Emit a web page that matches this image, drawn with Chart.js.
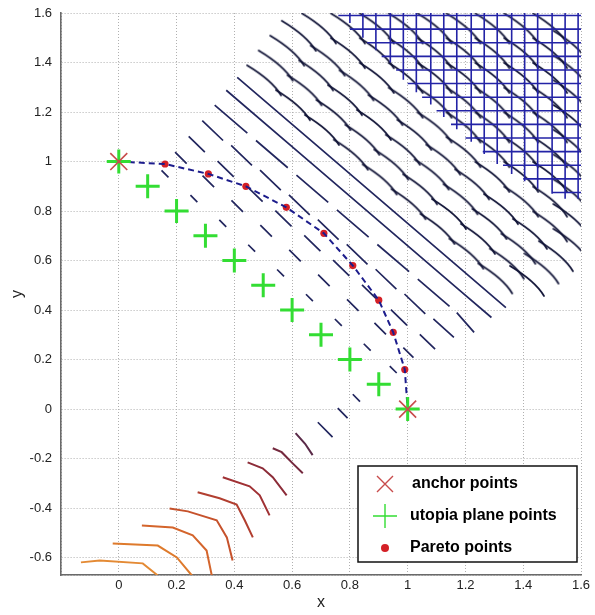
<!DOCTYPE html>
<html>
<head>
<meta charset="utf-8">
<script src="https://cdn.jsdelivr.net/npm/chart.js@4.4.1/dist/chart.umd.min.js"></script>
<style>
html, body { margin: 0; padding: 0; background: #fff; }
#wrap { width: 595px; height: 615px; position: relative; }
</style>
</head>
<body>
<div id="wrap"><canvas id="chart"></canvas></div>
<script>
// axis ticks
const xTicks = [0, 0.2, 0.4, 0.6, 0.8, 1, 1.2, 1.4, 1.6];
const yTicks = [-0.6, -0.4, -0.2, 0, 0.2, 0.4, 0.6, 0.8, 1, 1.2, 1.4, 1.6];

// anchor, utopia plane and pareto points
const anchorX = [0, 1];
const anchorY = [1, 0];
const utopiaX = [0, 0.1, 0.2, 0.3, 0.4, 0.5, 0.6, 0.7, 0.8, 0.9, 1];
const utopiaY = [1, 0.9, 0.8, 0.7, 0.6, 0.5, 0.4, 0.3, 0.2, 0.1, 0];
const paretoX = [0, 0.16, 0.31, 0.44, 0.58, 0.71, 0.81, 0.90, 0.95, 0.99, 1];
const paretoY = [1, 0.99, 0.95, 0.90, 0.815, 0.71, 0.58, 0.44, 0.31, 0.16, 0];

// short strokes near the utopia plane [x1, y1, x2, y2]
const dashSegs = [
    [0.148, 0.964, 0.172, 0.936], [0.248, 0.864, 0.272, 0.836], [0.348, 0.764, 0.372, 0.736],
    [0.448, 0.664, 0.472, 0.636], [0.548, 0.564, 0.572, 0.536], [0.648, 0.464, 0.672, 0.436],
    [0.748, 0.364, 0.772, 0.336], [0.848, 0.264, 0.872, 0.236], [0.938, 0.174, 0.962, 0.146],
    [0.195, 1.038, 0.235, 0.992], [0.29, 0.943, 0.33, 0.897], [0.39, 0.843, 0.43, 0.797],
    [0.49, 0.743, 0.53, 0.697], [0.59, 0.643, 0.63, 0.597], [0.69, 0.543, 0.73, 0.497],
    [0.79, 0.443, 0.83, 0.397], [0.885, 0.348, 0.925, 0.302], [0.985, 0.248, 1.02, 0.208],
    [0.242, 1.102, 0.298, 1.038], [0.342, 1.002, 0.398, 0.938], [0.442, 0.902, 0.498, 0.838],
    [0.542, 0.802, 0.598, 0.738], [0.642, 0.702, 0.698, 0.638], [0.742, 0.602, 0.798, 0.538],
    [0.842, 0.502, 0.898, 0.438], [0.942, 0.402, 0.998, 0.338], [1.042, 0.302, 1.095, 0.242],
    [0.289, 1.165, 0.361, 1.085], [0.389, 1.065, 0.461, 0.985], [0.489, 0.965, 0.561, 0.885],
    [0.589, 0.865, 0.661, 0.785], [0.689, 0.765, 0.761, 0.685], [0.789, 0.665, 0.861, 0.585],
    [0.889, 0.565, 0.961, 0.485], [0.989, 0.465, 1.061, 0.385], [1.089, 0.365, 1.16, 0.29],
    [0.332, 1.228, 0.445, 1.115], [0.475, 1.085, 0.585, 0.975], [0.615, 0.945, 0.725, 0.835],
    [0.755, 0.805, 0.865, 0.695], [0.895, 0.665, 1.005, 0.555], [1.035, 0.525, 1.145, 0.415],
    [1.17, 0.39, 1.23, 0.31],
    [0.81, 0.06, 0.835, 0.03], [0.758, 0.004, 0.792, -0.036], [0.689, -0.053, 0.74, -0.113]
];

// longer level lines
const longLines = [
    [[0.372, 1.288], [0.62, 1.04], [0.95, 0.71], [1.18, 0.48], [1.29, 0.37]],
    [[0.41, 1.34], [0.68, 1.07], [1.0, 0.75], [1.22, 0.53], [1.34, 0.41]]
];

// centres of the curved scale strokes in the upper right
const arcPts = [
    [0.51, 1.34], [0.61, 1.24], [0.71, 1.14], [0.81, 1.04], [0.91, 0.94], [1.01, 0.84], [1.11, 0.74], [1.21, 0.64], [1.31, 0.54],
    [0.55, 1.40], [0.65, 1.30], [0.75, 1.20], [0.85, 1.10], [0.95, 1.00], [1.05, 0.90], [1.15, 0.80], [1.25, 0.70], [1.35, 0.60], [1.42, 0.53],
    [0.59, 1.46], [0.69, 1.36], [0.79, 1.26], [0.89, 1.16], [0.99, 1.06], [1.09, 0.96], [1.19, 0.86], [1.29, 0.76], [1.39, 0.66], [1.47, 0.58],
    [0.63, 1.52], [0.73, 1.42], [0.83, 1.32], [0.93, 1.22], [1.03, 1.12], [1.13, 1.02], [1.23, 0.92], [1.33, 0.82], [1.43, 0.72], [1.52, 0.63],
    [0.70, 1.55], [0.80, 1.45], [0.90, 1.35], [1.00, 1.25], [1.10, 1.15], [1.20, 1.05], [1.30, 0.95], [1.40, 0.85], [1.50, 0.75], [1.57, 0.68],
    [0.80, 1.55], [0.90, 1.45], [1.00, 1.35], [1.10, 1.25], [1.20, 1.15], [1.30, 1.05], [1.40, 0.95], [1.50, 0.85], [1.57, 0.78],
    [0.90, 1.55], [1.00, 1.45], [1.10, 1.35], [1.20, 1.25], [1.30, 1.15], [1.40, 1.05], [1.50, 0.95], [1.57, 0.88],
    [1.00, 1.55], [1.10, 1.45], [1.20, 1.35], [1.30, 1.25], [1.40, 1.15], [1.50, 1.05], [1.57, 0.98],
    [1.10, 1.55], [1.20, 1.45], [1.30, 1.35], [1.40, 1.25], [1.50, 1.15], [1.57, 1.08],
    [1.20, 1.55], [1.30, 1.45], [1.40, 1.35], [1.50, 1.25], [1.57, 1.18],
    [1.30, 1.55], [1.40, 1.45], [1.50, 1.35], [1.57, 1.28],
    [1.40, 1.55], [1.50, 1.45], [1.57, 1.38],
    [1.50, 1.55], [1.57, 1.48]
];

// mesh in the top right corner
const meshX = [0.80, 0.845, 0.89, 0.94, 0.985, 1.03, 1.08, 1.125, 1.17, 1.22, 1.265, 1.31, 1.36, 1.405, 1.45, 1.50, 1.545, 1.59];
const meshXFrom = [1.56, 1.50, 1.45, 1.40, 1.33, 1.28, 1.23, 1.18, 1.13, 1.08, 1.03, 0.99, 0.95, 0.92, 0.89, 0.87, 0.85, 0.85];
const meshY = [1.59, 1.535, 1.48, 1.425, 1.37, 1.315, 1.26, 1.205, 1.15, 1.095, 1.04, 0.985, 0.93, 0.875];
const meshYFrom = [0.76, 0.80, 0.86, 0.91, 0.96, 1.00, 1.05, 1.10, 1.15, 1.20, 1.26, 1.33, 1.40, 1.50];

// lower left level arcs
const redArcs = [
    [[-0.131, -0.619], [-0.066, -0.611], [0.083, -0.623], [0.135, -0.672]],
    [[-0.021, -0.543], [0.135, -0.551], [0.201, -0.599], [0.253, -0.672]],
    [[0.080, -0.470], [0.187, -0.478], [0.256, -0.510], [0.304, -0.571], [0.322, -0.672]],
    [[0.176, -0.401], [0.239, -0.413], [0.339, -0.449], [0.374, -0.518], [0.394, -0.611]],
    [[0.273, -0.336], [0.349, -0.360], [0.408, -0.385], [0.436, -0.449], [0.464, -0.518]],
    [[0.360, -0.275], [0.453, -0.312], [0.488, -0.348], [0.522, -0.429]],
    [[0.446, -0.215], [0.498, -0.239], [0.533, -0.275], [0.581, -0.348]],
    [[0.533, -0.158], [0.564, -0.174], [0.602, -0.219], [0.637, -0.259]],
    [[0.612, -0.097], [0.645, -0.14], [0.671, -0.186]]
];
const redArcColors = ['#e48a34', '#de7a2c', '#d4652c', '#c6522c', '#b23f30', '#a03134', '#8c2c38', '#74293e', '#5a2a48'];

const navy = '#22265e';
const meshBlue = '#2323a6';
const fontFamily = '"Liberation Sans", Arial, Helvetica, sans-serif';

function toPoints(xs, ys) {
    return xs.map((x, i) => ({ x: x, y: ys[i] }));
}

function segData(segs) {
    const out = [];
    segs.forEach(s => {
        out.push({ x: s[0], y: s[1] }, { x: s[2], y: s[3] }, { x: null, y: null });
    });
    return out;
}

function polyData(lines) {
    const out = [];
    lines.forEach(l => {
        l.forEach(p => out.push({ x: p[0], y: p[1] }));
        out.push({ x: null, y: null });
    });
    return out;
}

function meshData() {
    const out = [];
    for (let i = 0; i < meshX.length; ++i) {
        out.push({ x: meshX[i], y: meshXFrom[i] }, { x: meshX[i], y: 1.6 }, { x: null, y: null });
    }
    for (let i = 0; i < meshY.length; ++i) {
        out.push({ x: meshYFrom[i], y: meshY[i] }, { x: 1.6, y: meshY[i] }, { x: null, y: null });
    }
    return out;
}

// curved stroke glyph: shallow on the left, steeper on the right
function makeArcGlyph(color) {
    const c = document.createElement('canvas');
    c.width = 42;
    c.height = 42;
    const g = c.getContext('2d');
    g.translate(21, 21);
    g.strokeStyle = color;
    g.lineWidth = 1.8;
    g.lineCap = 'round';
    g.beginPath();
    g.moveTo(-19, -12);
    g.quadraticCurveTo(6.3, 3.2, 15, 18);
    g.stroke();
    return c;
}

function lineSet(data, color, width, order) {
    return {
        label: '',
        data: data,
        showLine: true,
        spanGaps: false,
        borderColor: color,
        borderWidth: width,
        pointRadius: 0,
        order: order
    };
}

const datasets = [];
datasets.push({
    label: 'anchor points',
    data: toPoints(anchorX, anchorY),
    pointStyle: 'crossRot',
    pointRadius: 12,
    borderColor: '#c84c4c',
    borderWidth: 1.6,
    order: 0
});
datasets.push({
    label: 'utopia plane points',
    data: toPoints(utopiaX, utopiaY),
    pointStyle: 'cross',
    pointRadius: 12,
    borderColor: '#33dd33',
    borderWidth: 3,
    order: 1
});
datasets.push({
    label: '',
    data: toPoints(paretoX, paretoY),
    showLine: true,
    borderColor: '#1c1c8c',
    borderWidth: 2,
    borderDash: [6, 4],
    pointRadius: 0,
    order: 2
});
datasets.push({
    label: 'Pareto points',
    data: toPoints(paretoX.slice(1, -1), paretoY.slice(1, -1)),
    pointStyle: 'circle',
    pointRadius: 3.6,
    backgroundColor: '#d42026',
    borderColor: '#d42026',
    borderWidth: 0,
    order: 3
});
datasets.push(lineSet(meshData(), meshBlue, 1.6, 10));
datasets.push({
    label: '',
    data: arcPts.map(p => ({ x: p[0], y: p[1] })),
    pointStyle: makeArcGlyph('#121538'),
    pointRadius: 21,
    order: 11
});
datasets.push(lineSet(polyData(longLines), navy, 1.7, 12));
datasets.push(lineSet(segData(dashSegs), navy, 1.7, 13));
redArcs.forEach((arc, i) => {
    datasets.push(lineSet(polyData([arc]), redArcColors[i], 2, 20 + i));
});

const legendRows = ['anchor points', 'utopia plane points', 'Pareto points'];

const boxLegend = {
    id: 'boxLegend',
    afterDraw(chart) {
        const ctx = chart.ctx;
        const area = chart.chartArea;
        const w = 219, h = 96;
        const x0 = area.right - 4 - w;
        const y0 = area.bottom - 13 - h;
        ctx.save();
        ctx.fillStyle = '#ffffff';
        ctx.fillRect(x0, y0, w, h);
        ctx.strokeStyle = '#111111';
        ctx.lineWidth = 1.5;
        ctx.strokeRect(x0, y0, w, h);
        ctx.font = 'bold 16px ' + fontFamily;
        ctx.textBaseline = 'middle';
        legendRows.forEach((name, i) => {
            const ds = chart.data.datasets.find(d => d.label === name);
            const cy = y0 + 18 + i * 32;
            const cx = x0 + 27;
            ctx.strokeStyle = ds.borderColor;
            ctx.fillStyle = ds.backgroundColor || ds.borderColor;
            ctx.lineWidth = 1.4;
            ctx.beginPath();
            if (ds.pointStyle === 'crossRot') {
                ctx.moveTo(cx - 8, cy - 8); ctx.lineTo(cx + 8, cy + 8);
                ctx.moveTo(cx - 8, cy + 8); ctx.lineTo(cx + 8, cy - 8);
                ctx.stroke();
            } else if (ds.pointStyle === 'cross') {
                ctx.moveTo(cx - 12, cy); ctx.lineTo(cx + 12, cy);
                ctx.moveTo(cx, cy - 12); ctx.lineTo(cx, cy + 12);
                ctx.stroke();
            } else {
                ctx.arc(cx, cy, 4, 0, Math.PI * 2);
                ctx.fill();
            }
            ctx.fillStyle = '#000000';
            ctx.fillText(name, x0 + (i === 0 ? 54 : 52), cy);
        });
        ctx.restore();
    }
};

function tickLabel(list) {
    return function(v) {
        return list.some(t => Math.abs(t - v) < 1e-6) ? String(Math.round(v * 10) / 10) : '';
    };
}

new Chart(document.getElementById('chart'), {
    type: 'scatter',
    data: { datasets: datasets },
    options: {
        responsive: true,
        maintainAspectRatio: false,
        animation: false,
        devicePixelRatio: 1,
        layout: { autoPadding: false, padding: { top: 13, right: 14, left: 0, bottom: 0 } },
        plugins: {
            legend: { display: false },
            tooltip: { enabled: false }
        },
        scales: {
            x: {
                type: 'linear',
                min: -0.2,
                max: 1.6,
                ticks: {
                    stepSize: 0.2,
                    padding: 3,
                    color: '#222',
                    font: { family: fontFamily, size: 13 },
                    callback: tickLabel(xTicks)
                },
                grid: { color: '#b0b0b0', lineWidth: 1, drawTicks: false },
                border: { color: '#6a6a6a', width: 1.6, dash: [1, 2] },
                title: {
                    display: true,
                    text: 'x',
                    color: '#222',
                    font: { family: fontFamily, size: 16 },
                    padding: { top: 0, bottom: 3 }
                },
                afterFit: s => {
                    s.height = 40;
                    s.paddingLeft = 0;
                    s.paddingRight = 0;
                }
            },
            y: {
                type: 'linear',
                min: -0.67,
                max: 1.6,
                ticks: {
                    stepSize: 0.2,
                    padding: 9,
                    color: '#222',
                    font: { family: fontFamily, size: 13 },
                    callback: tickLabel(yTicks)
                },
                grid: { color: '#b0b0b0', lineWidth: 1, drawTicks: false },
                border: { color: '#6a6a6a', width: 1.6, dash: [1, 2] },
                title: {
                    display: true,
                    text: 'y',
                    color: '#222',
                    font: { family: fontFamily, size: 16 },
                    padding: { top: 8, bottom: 0 }
                },
                afterFit: s => {
                    s.width = 61;
                    s.paddingTop = 0;
                    s.paddingBottom = 0;
                }
            }
        }
    },
    plugins: [boxLegend]
});
</script>
</body>
</html>
